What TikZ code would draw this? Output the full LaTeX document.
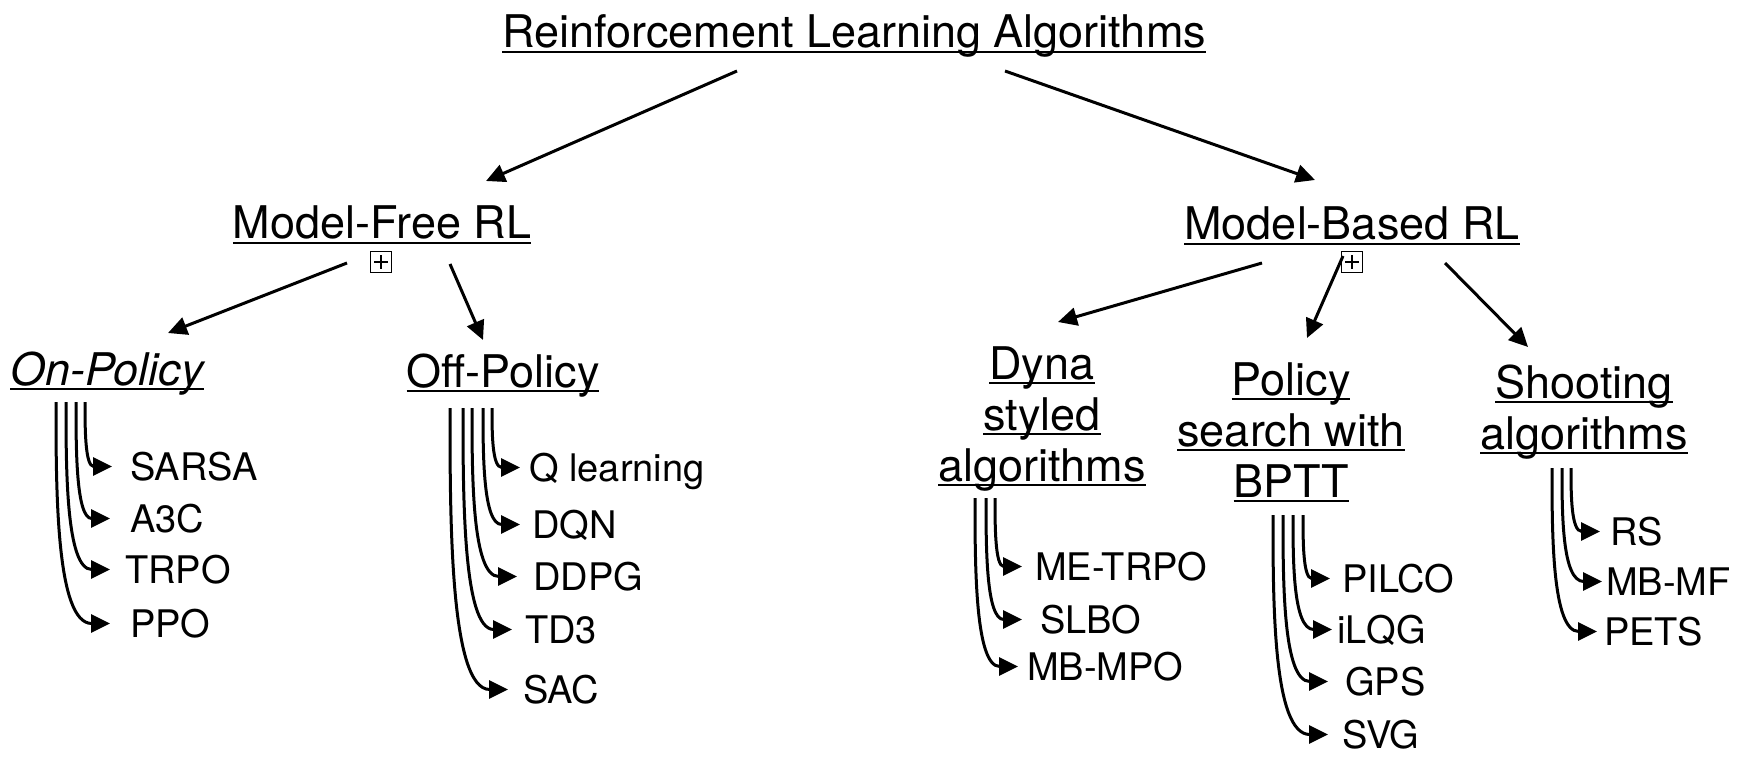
\documentclass[tikz,border=0pt]{standalone}
\usepackage{fontspec}
\setmainfont{TeX Gyre Heros}
\usetikzlibrary{arrows.meta,calc}
\newcommand\myul[1]{\setbox0=\hbox{#1}\rlap{\rule[-0.12em]{\wd0}{0.06em}}\box0}
\newcommand\branch[3]{\draw[conn] (#1) .. controls ($(#1)!0.4!(#1 |- #2.west)$) and (#1 |- #2.west) .. ([xshift=-#3pt]#2.west);}
\begin{document}
\begin{tikzpicture}[x=1pt,y=-1pt,
  head/.style={inner sep=0pt, anchor=base, font=\fontsize{45}{51}\selectfont, align=center},
  leaf/.style={inner sep=0pt, anchor=base west, font=\fontsize{38}{44}\selectfont, text height=27pt, text depth=0pt},
  conn/.style={line width=3pt, -{Triangle[length=19pt,width=18pt]}},
  plusbox/.style={draw, line width=1.7pt, minimum size=21pt, inner sep=0pt,
    path picture={\draw[line width=1.7pt] ([xshift=-7pt]path picture bounding box.center) -- ([xshift=7pt]path picture bounding box.center)
      ([yshift=-7pt]path picture bounding box.center) -- ([yshift=7pt]path picture bounding box.center);}}]
\useasboundingbox (0,0) rectangle (1747,767);
% headers
\node[head] (title) at (854,48) {\myul{Reinforcement Learning Algorithms}};
\node[head] (mf) at (382,239) {\myul{Model-Free RL}};
\node[head] (mb) at (1352,240) {\myul{Model-Based RL}};
\node[plusbox] (mfbox) at (381,262) {};
\node[plusbox] (mbbox) at (1352,262) {};
\node[head] (on) at (107,385) {\myul{\itshape On-Policy}};
\node[head] (off) at (503,387) {\myul{Off-Policy}};
\node[head] (dyna) at (1042,481) {\myul{Dyna}\\\myul{styled}\\\myul{algorithms}};
\node[head] (pol) at (1291,497) {\myul{Policy}\\\myul{search with}\\\myul{BPTT}};
\node[head] (shoot) at (1584,449) {\myul{Shooting}\\\myul{algorithms}};
% leaves
\node[leaf] (sarsa) at (130,480) {SARSA};
\node[leaf] (a3c) at (130,532) {A3C};
\node[leaf] (trpo) at (125,583) {TRPO};
\node[leaf] (ppo) at (130,637) {PPO};
\node[leaf] (ql) at (529,481) {Q learning};
\node[leaf] (dqn) at (532,538) {DQN};
\node[leaf] (ddpg) at (533,590) {DDPG};
\node[leaf] (td3) at (525,643) {TD3};
\node[leaf] (sac) at (523,703) {SAC};
\node[leaf] (metrpo) at (1035,580) {ME-TRPO};
\node[leaf] (slbo) at (1040,633) {SLBO};
\node[leaf] (mbmpo) at (1027,680) {MB-MPO};
\node[leaf] (pilco) at (1342,592) {PILCO};
\node[leaf] (ilqg) at (1337,643) {iLQG};
\node[leaf] (gps) at (1345,695) {GPS};
\node[leaf] (svg) at (1342,748) {SVG};
\node[leaf] (rs) at (1610,545) {RS};
\node[leaf] (mbmf) at (1606,595) {MB-MF};
\node[leaf] (pets) at (1604,645) {PETS};
% header connectors
\coordinate (title-mf) at (737,71);   \coordinate (mf-in) at (486,181);
\coordinate (title-mb) at (1005,71);  \coordinate (mb-in) at (1315,180);
\coordinate (mf-on) at (347,263);     \coordinate (on-in) at (168,333);
\coordinate (mf-off) at (450,264);    \coordinate (off-in) at (483,340);
\coordinate (mb-dyna) at (1262,263);  \coordinate (dyna-in) at (1058,322);
\coordinate (mb-pol) at (1343,256);   \coordinate (pol-in) at (1307,338);
\coordinate (mb-shoot) at (1445,263); \coordinate (shoot-in) at (1528,347);
\draw[conn] (title-mf) -- (mf-in);
\draw[conn] (title-mb) -- (mb-in);
\draw[conn] (mf-on) -- (on-in);
\draw[conn] (mf-off) -- (off-in);
\draw[conn] (mb-dyna) -- (dyna-in);
\draw[conn] (mb-pol) -- (pol-in);
\draw[conn] (mb-shoot) -- (shoot-in);
% branch start points
\coordinate (on1) at (85,402); \coordinate (on2) at (76,402); \coordinate (on3) at (66,402); \coordinate (on4) at (56,402);
\coordinate (off1) at (492,408); \coordinate (off2) at (483,408); \coordinate (off3) at (472,408); \coordinate (off4) at (463,408); \coordinate (off5) at (450,408);
\coordinate (dy1) at (995,498); \coordinate (dy2) at (986,498); \coordinate (dy3) at (975,498);
\coordinate (po1) at (1303,515); \coordinate (po2) at (1293,515); \coordinate (po3) at (1283,515); \coordinate (po4) at (1273,515);
\coordinate (sh1) at (1571,468); \coordinate (sh2) at (1562,468); \coordinate (sh3) at (1552,468);
\branch{on1}{sarsa}{18}
\branch{on2}{a3c}{20}
\branch{on3}{trpo}{15}
\branch{on4}{ppo}{20}
\branch{off1}{ql}{9}
\branch{off2}{dqn}{12}
\branch{off3}{ddpg}{16}
\branch{off4}{td3}{13}
\branch{off5}{sac}{15}
\branch{dy1}{metrpo}{13}
\branch{dy2}{slbo}{18}
\branch{dy3}{mbmpo}{9}
\branch{po1}{pilco}{12}
\branch{po2}{ilqg}{5}
\branch{po3}{gps}{17}
\branch{po4}{svg}{14}
\branch{sh1}{rs}{10}
\branch{sh2}{mbmf}{4}
\branch{sh3}{pets}{7}
\end{tikzpicture}
\end{document}
